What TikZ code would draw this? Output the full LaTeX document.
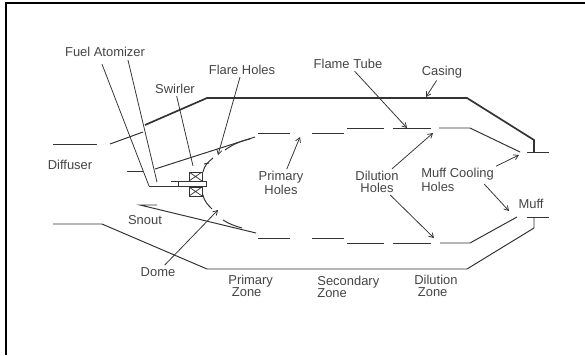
\documentclass[tikz,border=0pt]{standalone}
\usepackage{fontspec}
\setmainfont{Liberation Sans}
\usetikzlibrary{arrows.meta}
\definecolor{ink}{HTML}{333333}
\definecolor{labelgray}{HTML}{444444}
\tikzset{
  wall/.style={ink,line width=0.7pt},
  casing/.style={ink,line width=1.2pt},
  leader/.style={ink,line width=0.55pt},
  lbl/.style={text=labelgray,align=left,inner sep=1.5pt},
  swirlbox/.style={draw=ink,line width=0.7pt,minimum width=0.325cm,minimum height=0.225cm,inner sep=0pt,
    path picture={\draw[ink,line width=0.5pt] (path picture bounding box.south west)--(path picture bounding box.north east)
      (path picture bounding box.north west)--(path picture bounding box.south east);}}
}
\begin{document}
\begin{tikzpicture}[x=0.025cm,y=-0.025cm,font=\fontsize{9.2}{8.5}\selectfont,>={Straight Barb[length=1.1mm,width=1.3mm]}]
  \useasboundingbox (0,0) rectangle (585,355);
  % frame
  \draw[black,line width=2pt] (6,355)--(6,3)--(585,3);
  % casing
  \draw[casing] (145,125)--(207,98)--(467,98)--(534,140)--(534,152);
  \draw[wall] (527,152)--(549,152);
  \draw[wall] (527,217)--(549,217);
  \draw[wall] (534,217)--(534,228)--(467,269)--(207,269)--(102,224)--(53,224);
  % diffuser
  \draw[wall] (53,144)--(97,144);
  \draw[wall] (110,144)--(143,132);
  \draw[wall] (127,171)--(143,171);
  % flame tube, top
  \draw[wall] (155,169)--(255,137);
  \draw[wall] (258,133)--(290,133);
  \draw[wall] (312,133)--(344,133);
  \draw[wall] (347,128)--(384,128);
  \draw[wall] (393,128)--(431,128);
  \draw[wall] (439,128)--(470,128)--(520,152);
  % flame tube, bottom
  \draw[wall] (157,205)--(140,205)--(256,233);
  \draw[wall] (258,238)--(290,238);
  \draw[wall] (312,238)--(344,238);
  \draw[wall] (347,243)--(384,243);
  \draw[wall] (393,243)--(431,243);
  \draw[wall] (440,243)--(470,243)--(517,217);
  % atomizer
  \draw[wall] (149,186)--(206,186)--(206,181)--(171,181);
  \draw[wall] (178,181)--(178,186);
  \node[swirlbox] (swirltop) at (195.5,176.5) {};
  \node[swirlbox] (swirlbot) at (195.5,191.5) {};
  % dome
  \draw[wall] (203,172) .. controls (204,166) and (208,162) .. (213,158);
  \draw[wall] (204,164)--(209,163);
  \draw[wall] (225,150) .. controls (232,145) and (240,141) .. (250,139);
  \draw[wall] (203,195) .. controls (204,201) and (208,205) .. (212,209);
  \draw[wall] (223,220) .. controls (229,224) and (235,226) .. (242,228);
  % labels
  \node[lbl] (atomizer) at (105,52) {Fuel Atomizer};
  \node[lbl] (flare) at (242,70) {Flare Holes};
  \node[lbl] (swirler) at (175,89) {Swirler};
  \node[lbl] (flametube) at (348,64) {Flame Tube};
  \node[lbl] (casinglbl) at (442,72) {Casing};
  \node[lbl] (diffuser) at (70,165) {Diffuser};
  \node[lbl,align=center] (primholes) at (281,183) {Primary\\Holes};
  \node[lbl,align=center] (dilholes) at (377,182) {Dilution\\Holes};
  \node[lbl,anchor=west] (muffholes) at (419,180) {Muff Cooling\\Holes};
  \node[lbl] (muff) at (531,204) {Muff};
  \node[lbl] (snout) at (145,220) {Snout};
  \node[lbl] (dome) at (158,272) {Dome};
  \node[lbl,anchor=west] (primzone) at (226,286) {Primary\\\hspace*{2.5pt}Zone};
  \node[lbl,anchor=west] (seczone) at (315,287) {Secondary\\Zone};
  \node[lbl,anchor=west] (dilzone) at (412,286) {Dilution\\\hspace*{2.5pt}Zone};
  % leader ends
  \coordinate (atomizerA) at (149,186);
  \coordinate (atomizerB) at (157,182);
  \coordinate (swirlend) at (193,166);
  \coordinate (flareend) at (218,155);
  \coordinate (primend) at (300,137);
  \coordinate (tubeend) at (407,128);
  \coordinate (casingend) at (426,97);
  \coordinate (dilendA) at (433,133);
  \coordinate (dilendB) at (434,238);
  \coordinate (muffendA) at (519,155);
  \coordinate (muffendB) at (509,211);
  \coordinate (domeend) at (218,210);
  % leaders
  \draw[leader] (atomizer.south) ++(-3,5)--(atomizerA);
  \draw[leader] (atomizer.south) ++(23,1)--(atomizerB);
  \draw[leader] (swirler)--(swirlend);
  \draw[leader,->] (flare)--(flareend);
  \draw[leader,->] (primholes)--(primend);
  \draw[leader,->] (flametube)--(tubeend);
  \draw[leader,->] (casinglbl)--(casingend);
  \draw[leader,->] (dilholes)--(dilendA);
  \draw[leader,->] (dilholes)--(dilendB);
  \draw[leader,->] (muffholes.north east)--(muffendA);
  \draw[leader,->] (muffholes.east) ++(-12,4)--(muffendB);
  \draw[leader,->] (dome)--(domeend);
\end{tikzpicture}
\end{document}
